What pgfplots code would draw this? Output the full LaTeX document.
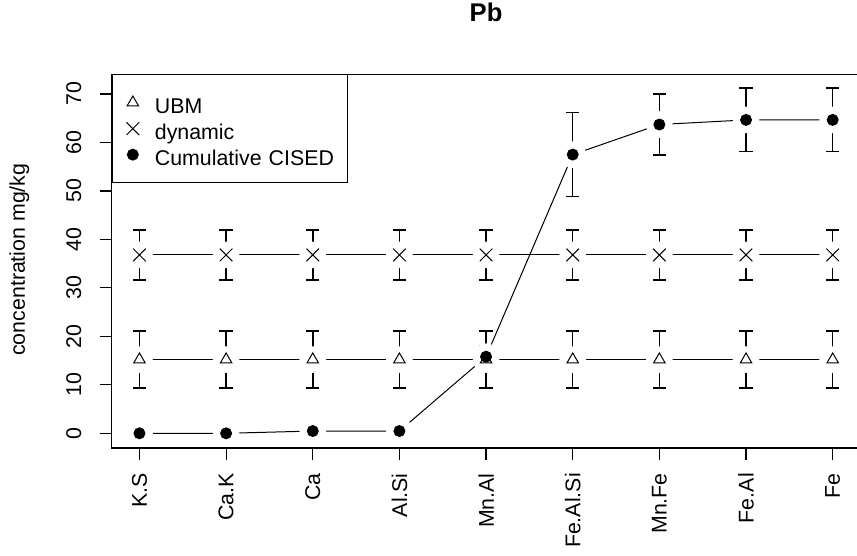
\documentclass[border=0pt]{standalone}
\usepackage{pgfplots}
\pgfplotsset{compat=1.18}
\usepackage{pgfplotstable}
\usepackage{fontspec}
\setmainfont{Liberation Sans}

\pgfplotstableread{
x ubm ubme dyn dyne cis cise
0 15.2 5.9 36.8 5.15 0.0 0
1 15.2 5.9 36.8 5.15 0.0 0
2 15.2 5.9 36.8 5.15 0.47 0.3
3 15.2 5.9 36.8 5.15 0.47 0.3
4 15.2 5.9 36.8 5.15 15.8 2.2
5 15.2 5.9 36.8 5.15 57.5 8.7
6 15.2 5.9 36.8 5.15 63.7 6.3
7 15.2 5.9 36.8 5.15 64.65 6.55
8 15.2 5.9 36.8 5.15 64.65 6.55
}\data

\pgfplotsset{
  myerr/.style={
    error bars/y dir=both,
    error bars/y explicit,
    error bars/error mark=|,
    error bars/error mark options={black, mark size=5pt, line width=1.1pt},
    error bars/error bar style={black, line width=1.1pt}
  },
  gap/.style={forget plot, only marks, mark=*, mark size=9.6pt, mark options={fill=white, draw=white, line width=0.75pt}}
}

\begin{document}
\begin{tikzpicture}
\useasboundingbox (0,0) rectangle (642.75pt,417pt);
\begin{axis}[
  at={(83.8pt,81pt)}, anchor=south west,
  scale only axis, width=561.5pt, height=280.3pt,
  xmin=-0.32, xmax=8.32, ymin=-3.03, ymax=74.07,
  xtick={0,...,8},
  xticklabels={K.S,Ca.K,Ca,Al.Si,Mn.Al,Fe.Al.Si,Mn.Fe,Fe.Al,Fe},
  ytick={0,10,...,70},
  tick align=outside, tick pos=left, major tick length=9pt,
  every tick/.style={black, line width=0.9pt},
  axis line style={black, line width=0.9pt},
  font=\fontsize{16}{19}\selectfont,
  tick label style={font=\fontsize{16}{19}\selectfont},
  /pgf/number format/assume math mode=true,
  xticklabel style={rotate=90, anchor=east, inner sep=0pt},
  xticklabel shift=9.75pt,
  yticklabel style={rotate=90, anchor=base, inner sep=0pt},
  yticklabel shift=14pt,
  ylabel={concentration mg/kg},
  ylabel style={at={(axis description cs:-0.1159,0.504)}, anchor=base, inner sep=0pt},
  title={Pb},
  title style={at={(axis description cs:0.5,1.121)}, anchor=base, inner sep=0pt, font=\bfseries\fontsize{19.2}{23}\selectfont},
  legend image code/.code={\path (-10pt,0pt) (10pt,0pt); \draw[#1] plot coordinates {(0pt,0pt)};},
  legend style={at={(0,1)}, anchor=north west, draw=black, line width=0.9pt,
    inner xsep=5pt, inner ysep=12.85pt, row sep=3.5pt, column sep=6.2pt,
    nodes={inner sep=0pt, text height=16pt, text depth=0pt, text width=139.3pt, align=left},
    cells={anchor=west}, font=\fontsize{16}{19}\selectfont},
  legend cell align=left,
]
% connecting lines
\addplot[forget plot, black, line width=0.75pt, mark=none] table[x=x,y=ubm]{\data};
\addplot[forget plot, black, line width=0.75pt, mark=none] table[x=x,y=dyn]{\data};
\addplot[forget plot, black, line width=0.75pt, mark=none] table[x=x,y=cis]{\data};
% gaps around the points (type "b")
\addplot[gap] table[x=x,y=ubm]{\data};
\addplot[gap] table[x=x,y=dyn]{\data};
\addplot[gap] table[x=x,y=cis]{\data};
% points with error bars
\addplot[black, only marks, mark=triangle, mark size=5pt, line width=0.75pt, myerr]
  table[x=x,y=ubm,y error=ubme]{\data};
\addlegendentry{UBM}
\addplot[black, only marks, mark=x, mark size=6.7pt, line width=0.75pt, myerr]
  table[x=x,y=dyn,y error=dyne]{\data};
\addlegendentry{dynamic}
\addplot[forget plot, black, only marks, mark=none, myerr, restrict x to domain=2:8]
  table[x=x,y=cis,y error=cise]{\data};
\addplot[black, only marks, mark=*, mark size=4.1pt, line width=0.75pt]
  table[x=x,y=cis]{\data};
\addlegendentry{Cumulative CISED}
\end{axis}
\end{tikzpicture}
\end{document}
